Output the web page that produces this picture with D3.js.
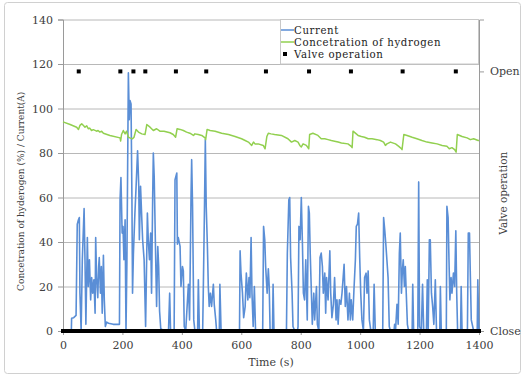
<!DOCTYPE html>
<html>
<head>
<meta charset="utf-8">
<script src="https://cdn.jsdelivr.net/npm/d3@7"></script>
<style>
  html, body { margin: 0; padding: 0; background: #fff; }
  svg { display: block; }
  text { font-family: "DejaVu Serif", serif; }
</style>
</head>
<body>
<svg id="chart" width="526" height="377"></svg>
<script>
// ---------- DATA ----------
const xTicks = [0, 200, 400, 600, 800, 1000, 1200, 1400];
const yTicks = [0, 20, 40, 60, 80, 100, 120, 140];
const valveTickValues = [0, 1];
const valveTickLabels = ["Close", "Open"];
const seriesNames = ["Current", "Concetration of hydrogen", "Valve operation"];

// Current (A): [time s, value]
const currentData = [
  [0,0],[28,0],[29,5.7],[36,6],[44,7],[48,48],[52,50],[55,51],[57,17],[61,0],[65,32],[71,55],[74,32],[77,3],
  [82,42],[85,20],[89,32],[93,14],[96.5,24],[100,17],[104,23],[108,8],[110,42],[113,24],[117,15],[120,29],
  [122,33],[126,17],[129,29],[132,8],[136,34],[139,14],[142.5,2],[147,4],[153,3.5],[169,3],[190,3],[192,59],
  [195,69],[199,44],[202,47],[205,32],[209,50],[212,0],[215,30],[220,116],[223,95],[225.5,103.6],[229,102],
  [232,59],[234,17],[237,35],[242,53],[246,65],[251,81],[255,65],[257,41],[261,65],[265,51],[268,41],[273,32],
  [278,2],[284,53],[287,41],[291,32],[295,44],[298,17],[302,62],[304,80],[307,69],[312,32],[315,11],[319,38],
  [322,29],[325,9],[329,1],[340,0],[355,0],[359,17],[362,0],[374,0],[377,68],[383,71],[385,39],[388,42],
  [394,38],[397,20],[402,29],[405,27],[408,2],[413,0],[422,21],[426,5],[431,62],[433,77],[436,56],[440,5],
  [444,0],[453,0],[455.5,23],[459,0],[470,0],[472,17],[476,54],[479,86],[482,56],[486,38],[489,20],[492,11],
  [496,17],[500,11],[506,21],[509,12],[514,5],[517,0],[526,0],[528,21],[532,0],[594,0],[596,36],[599,26],
  [604,17],[608,6],[613,11],[617,26],[622,14],[626,24],[629,15],[633,42],[636,17],[640,2],[644,20],[648,0],
  [672,0],[675,47],[679,41],[682,29],[687,17],[691,28],[694,20],[697,0],[705,0],[707,21],[710,0],[752,0],
  [755,35],[760,59],[763,60],[766,33],[771,17],[774,2],[780,0],[789,0],[791,2],[794,47],[798,41],[802,60],
  [806,38],[809,17],[813,14],[817,32],[822,5],[826,56],[829,53],[832,35],[836,17],[839,3],[844,17],[847,5],
  [853,20],[856,3],[861,0],[865,33],[869,35],[873,29],[876,17],[881,26],[884,8],[887,24],[892,14],[898,36],
  [901,17],[905,6],[910,12],[914,24],[919,5],[922,14],[926,3],[930,14],[935,12],[939,17],[946,30],[950,11],
  [954,20],[959,5],[964,17],[967,5],[970,14],[975,5],[979,18],[984,32],[987,47],[991,48],[995,53],[998.5,33],
  [1002,17],[1006,5],[1011,0],[1015,24],[1020,26],[1023,17],[1027,27],[1031,5],[1036,0],[1044,0],[1047,21],
  [1051,0],[1076,0],[1079,51],[1083,45],[1087,38],[1090,32],[1094,24],[1098,2],[1102,0],[1114,0],[1116,3],
  [1119,0],[1124,12],[1128,3],[1132,35],[1135,44],[1139,17],[1142,27],[1145,32],[1149,20],[1152,29],[1156,14],
  [1159,3],[1163,0],[1175,0],[1177,21],[1180,0],[1194,0],[1197,67],[1200,2],[1206,0],[1210,21],[1214,0],
  [1223,0],[1226,23],[1229,0],[1233,41],[1236,41],[1240,17],[1244,11],[1248,3],[1253,23],[1257,0],[1268,0],
  [1270,20],[1273,0],[1290,0],[1292,56],[1296,51],[1299,32],[1302,14],[1306,24],[1309,17],[1314,26],[1318,20],
  [1322,45],[1325,17],[1328,0],[1338,0],[1340,20],[1343,0],[1361,0],[1364,44],[1368,44],[1371,24],[1374,5],
  [1382,0],[1394,0],[1396,23],[1399,3],[1400,0]
];

// Concentration of hydrogen (%): [time s, value]
const hydrogenData = [
  [0,94],[24,92.8],[46,91.6],[52,90.6],[57,92.4],[63,93.1],[68,92.5],[74,91.6],[80,92.2],[85,90.9],[90,91.2],
  [96,90.1],[102,90.5],[113,89.8],[118,90.1],[124,89.4],[130,89.8],[136,88.9],[158,87.9],[192,86.8],[194,85.4],
  [197,88.3],[203,90.1],[209,88.6],[214,89.8],[220,87.1],[225,86.8],[234,86.4],[239,87.1],[246,90.6],[254,89.4],
  [265,88.6],[276,88.3],[282,92.8],[293,91.6],[304,90.1],[315,90.9],[326,89.8],[340,89.8],[360,89.1],[371,88.3],
  [379,87.1],[384,90.9],[394,90.6],[405,90.1],[416,89.4],[427,88.9],[439,87.9],[444,88.6],[455,88.3],[467,87.9],
  [478,86.8],[480,86],[485,90.6],[495,90.1],[512,89.8],[534,88.9],[557,88.3],[579,87.4],[601,86.4],[613,85.6],
  [624,84.9],[635,83.4],[641,84.9],[646,84.1],[657,84.1],[674,83.4],[680,81.9],[686,87.4],[691,88.9],[700,88.6],
  [712,88.3],[735,87.9],[757,86.4],[769,84.9],[780,85.6],[791,84.9],[797,83.4],[802,82.7],[808,84.1],[819,83.4],
  [827,81.9],[830,88.3],[841,88.9],[858,87.9],[869,86.4],[881,86.4],[892,86],[903,85.6],[914,85.3],[926,84.9],
  [937,84.5],[959,84.1],[970,83],[973,82.4],[976,89.8],[984,88.9],[993,87.9],[1004,87.4],[1015,87.1],[1027,86.4],
  [1040,86.4],[1057,86],[1068,85.6],[1079,84.9],[1085,83.4],[1090,84.1],[1102,84.9],[1119,84.1],[1130,83],
  [1139,81.9],[1141,81.5],[1147,88.3],[1158,87.9],[1175,87.1],[1191,86.4],[1208,85.6],[1225,84.9],[1242,84.5],
  [1259,84.1],[1276,83.4],[1292,83],[1300,81.9],[1309,82.4],[1318,81.5],[1323,80.4],[1327,88.3],[1343,87.4],
  [1360,86.8],[1371,86],[1382,86.4],[1397,85.6],[1400,85.6]
];

// Valve operation: times when valve opened (value 1), closed (0) otherwise
const valveOpenTimes = [53, 193, 237, 277, 380, 482, 683, 828, 969, 1143, 1322];
const valveClosedSpan = [0, 1400];

// ---------- CHART ----------
const svg = d3.select("#chart");
const pL = 63, pR = 479, pT = 19.5, pB = 331;

svg.append("rect").attr("x", 4.5).attr("y", 2.5).attr("width", 516).attr("height", 371)
  .attr("rx", 3).attr("fill", "#fff").attr("stroke", "#d0d0d0").attr("stroke-width", 1);

const x = d3.scaleLinear().domain([0, 1400]).range([pL, pR]);
const y = d3.scaleLinear().domain([0, 140]).range([pB, pT]);
const yR = d3.scaleLinear().domain([0, 1.2]).range([pB, pT]);

const gridColor = "#b8b8b8";
const axisColor = "#9a9a9a";
const textColor = "#404040";

// gridlines
svg.append("g").attr("transform", `translate(${pL},0)`)
  .call(d3.axisLeft(y).tickValues(yTicks.filter(v => v > 0)).tickSize(-(pR - pL)).tickFormat(""))
  .call(g => g.select(".domain").remove())
  .call(g => g.selectAll("line").attr("stroke", gridColor));

// left axis
svg.append("g").attr("transform", `translate(${pL},0)`)
  .call(d3.axisLeft(y).tickValues(yTicks).tickSize(5).tickPadding(5))
  .call(g => g.select(".domain").attr("stroke", axisColor))
  .call(g => g.selectAll("line").attr("stroke", axisColor))
  .call(g => g.selectAll("text").attr("fill", textColor).style("font-size", "11px").style("font-family", "DejaVu Serif"));

// right axis
svg.append("g").attr("transform", `translate(${pR},0)`)
  .call(d3.axisRight(yR).tickValues(valveTickValues).tickSize(5).tickPadding(6)
    .tickFormat((d, i) => valveTickLabels[i]))
  .call(g => g.select(".domain").attr("stroke", axisColor))
  .call(g => g.selectAll("line").attr("stroke", axisColor))
  .call(g => g.selectAll("text").attr("fill", textColor).style("font-size", "11px").style("font-family", "DejaVu Serif"));

// bottom axis
svg.append("g").attr("transform", `translate(0,${pB})`)
  .call(d3.axisBottom(x).tickValues(xTicks).tickSize(4).tickPadding(6).tickFormat(d3.format("d")))
  .call(g => g.select(".domain").attr("stroke", axisColor))
  .call(g => g.selectAll("line").attr("stroke", axisColor))
  .call(g => g.selectAll("text").attr("fill", textColor).style("font-size", "11px").style("font-family", "DejaVu Serif"));

// series lines
const line = d3.line().x(d => x(d[0])).y(d => y(d[1]));
svg.append("path").datum(currentData).attr("d", line)
  .attr("fill", "none").attr("stroke", "#5a8ed6").attr("stroke-width", 1.6).attr("stroke-linejoin", "round");
svg.append("path").datum(hydrogenData).attr("d", line)
  .attr("fill", "none").attr("stroke", "#92d050").attr("stroke-width", 1.5).attr("stroke-linejoin", "round");

// valve: closed markers (dense row forms thick line) and open markers
svg.append("line")
  .attr("x1", x(valveClosedSpan[0]) - 2).attr("x2", x(valveClosedSpan[1]) + 2)
  .attr("y1", yR(0)).attr("y2", yR(0))
  .attr("stroke", "#000").attr("stroke-width", 4);
svg.append("g").selectAll("rect").data(valveOpenTimes).join("rect")
  .attr("x", d => x(d) - 2).attr("y", yR(1) - 2).attr("width", 4).attr("height", 4).attr("fill", "#000");

// axis titles
svg.append("text").attr("transform", `translate(24,${(pT + pB) / 2 + 16}) rotate(-90)`)
  .attr("text-anchor", "middle").attr("fill", textColor).style("font-size", "9px")
  .text("Concetration of hyderogen (%) / Current(A)");
svg.append("text").attr("transform", `translate(507,${(pT + pB) / 2 + 18}) rotate(-90)`)
  .attr("text-anchor", "middle").attr("fill", textColor).style("font-size", "10.5px")
  .text("Valve operation");
svg.append("text").attr("x", 271).attr("y", 366).attr("text-anchor", "middle")
  .attr("fill", textColor).style("font-size", "11px").text("Time (s)");

// legend
const lg = svg.append("g");
lg.append("rect").attr("x", 280.5).attr("y", 19.5).attr("width", 198).attr("height", 44.5)
  .attr("fill", "#fff").attr("stroke", "#c8c8c8");
const legendY = [30, 42, 54];
const legendColors = ["#5a8ed6", "#92d050", "#000"];
seriesNames.forEach((name, i) => {
  if (i < 2) {
    lg.append("line").attr("x1", 281).attr("x2", 294).attr("y1", legendY[i]).attr("y2", legendY[i])
      .attr("stroke", legendColors[i]).attr("stroke-width", 1.5);
  } else {
    lg.append("rect").attr("x", 283).attr("y", legendY[i] - 2).attr("width", 4).attr("height", 4).attr("fill", "#000");
  }
  lg.append("text").attr("x", 294).attr("y", legendY[i]).attr("dy", "0.35em")
    .attr("fill", "#222").style("font-size", "10.2px").style("letter-spacing", "0.6px").text(name);
});
</script>
</body>
</html>
